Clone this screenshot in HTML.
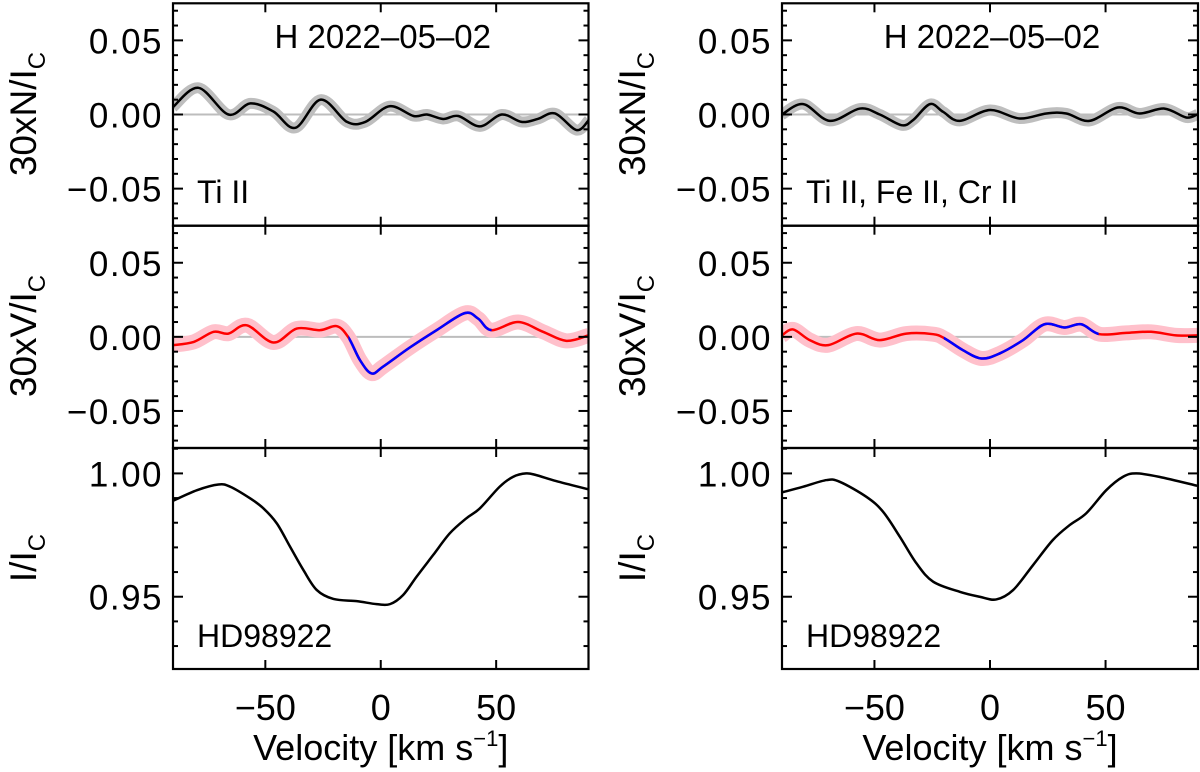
<!DOCTYPE html>
<html><head><meta charset="utf-8">
<style>
html,body{margin:0;padding:0;background:#fff;}
svg{display:block;font-family:"Liberation Sans",Arial,sans-serif;}
</style></head>
<body>
<svg id="chart" width="1200" height="772" viewBox="0 0 1200 772" xmlns="http://www.w3.org/2000/svg"></svg>
<script>
// ---- data ----
const lvN = [-90,-79,-66,-56.5,-46.5,-37,-26,-14.6,-6.7,3.8,14.2,20,27,33.6,43,52.4,61,68,75.5,84.8,90];
const lN  = [0.005,0.018,0,0.0075,0.002,-0.009,0.010,-0.005,-0.005,0.0056,-0.001,0,-0.003,-0.001,-0.008,0,-0.005,-0.003,0.0007,-0.0105,-0.004];
const lvV = [-90,-81,-72.4,-66,-58,-46.5,-36.4,-26.3,-19,-14,-9,-4,1.1,12.6,24.2,36.4,42.2,48,59.5,70.3,80.4,90];
const lV  = [-0.0056,-0.0034,0.0034,0.0022,0.0078,-0.0038,0.0056,0.0045,0.0072,-0.0004,-0.0157,-0.0247,-0.020,-0.0072,0.0045,0.016,0.0123,0.0045,0.010,0.0034,-0.0027,0.001];
const lBlue = [-14,48];
const lvI = [-90,-79.6,-70.3,-65.2,-56.6,-50.8,-45,-39.3,-33.5,-27.7,-20.5,-10.4,-1.8,4,9.7,15.5,22.7,29.9,37.1,42.9,51.5,57.3,63,67.4,76,89.7];
const lI  = [0.9889,0.9932,0.9955,0.9946,0.9899,0.9858,0.9797,0.9703,0.9608,0.9527,0.9491,0.9482,0.947,0.947,0.9507,0.9581,0.9669,0.9757,0.9818,0.9858,0.9946,0.9986,1.0,0.9993,0.9969,0.9936];

const rvN = [-90,-80.8,-69.3,-56.3,-47.7,-38.3,-33.3,-26,-20.3,-13.1,0,12.8,24.4,33,43,55.3,64.7,75.5,84.9,89.6];
const rN  = [0,0.007,-0.0043,0.004,0,-0.0072,-0.0038,0.007,0.0018,-0.0043,0.003,-0.0027,0.0007,0.0007,-0.0043,0.0047,0.0007,0.004,-0.002,0];
const rvV = [-90,-85.2,-78,-70,-57.8,-47.7,-36.2,-24.6,-19.6,-11.7,-3.7,4.2,14.3,23.6,32.3,39.5,47.4,58.9,69.7,80.5,89.6];
const rV  = [0.001,0.005,-0.0022,-0.0056,0.0022,-0.0022,0.0022,0.0018,-0.0011,-0.009,-0.0146,-0.0112,-0.0022,0.0085,0.0063,0.0085,0.0018,0.0027,0.0034,0.001,0.001];
const rBlue = [-20,47];
const rvI = [-90,-80.8,-70.7,-65,-53.5,-46.3,-39,-31.8,-24.6,-13.1,-4.5,2.7,10,18.6,27.2,34.4,41.6,50.3,57.5,63.3,73.3,89.6];
const rI  = [0.9923,0.9946,0.9973,0.9966,0.9905,0.9845,0.9743,0.9635,0.9561,0.952,0.95,0.9489,0.9527,0.9628,0.973,0.979,0.9838,0.9932,0.9986,1.0,0.9986,0.995];

const xTicks = [-50,0,50];
const xTickLabels = ["\u221250","0","50"];
const pTicks = [0.05,0,-0.05];
const pTickLabels = ["0.05","0.00","\u22120.05"];
const iTicks = [1.00,0.95];
const iTickLabels = ["1.00","0.95"];

const NS="http://www.w3.org/2000/svg";
const svg=document.getElementById('chart');
function mk(tag,attrs,parent){const e=document.createElementNS(NS,tag);for(const k in attrs)e.setAttribute(k,attrs[k]);(parent||svg).appendChild(e);return e;}

const rows=[{t:3.3,b:225.7,min:-0.075,max:0.075},{t:225.7,b:448,min:-0.075,max:0.075},{t:448,b:669,min:0.9207,max:1.0103}];
function smooth(pts){
  let d='M'+pts[0][0].toFixed(2)+','+pts[0][1].toFixed(2);
  for(let i=0;i<pts.length-1;i++){
    const p0=pts[Math.max(0,i-1)],p1=pts[i],p2=pts[i+1],p3=pts[Math.min(pts.length-1,i+2)];
    const c1=[p1[0]+(p2[0]-p0[0])/6,p1[1]+(p2[1]-p0[1])/6];
    const c2=[p2[0]-(p3[0]-p1[0])/6,p2[1]-(p3[1]-p1[1])/6];
    d+='C'+c1[0].toFixed(2)+','+c1[1].toFixed(2)+' '+c2[0].toFixed(2)+','+c2[1].toFixed(2)+' '+p2[0].toFixed(2)+','+p2[1].toFixed(2);
  }
  return d;
}

function panel(id,L,R,vN,N,vV,V,blue,vI,I,label,yl){
  const xs=v=>L+(v+90)/180*(R-L);
  const ys=(r,val)=>{const o=rows[r];return o.b-(val-o.min)/(o.max-o.min)*(o.b-o.t);};
  const g=mk('g',{});
  
  
  const clipId=id+'clip';
  const cp=mk('clipPath',{id:clipId},g);
  mk('rect',{x:L,y:0,width:R-L,height:680},cp);
  for(const r of [0,1]){
    const z=mk('line',{x1:L,x2:R,y1:ys(r,0),y2:ys(r,0),stroke:'#bdbdbd','stroke-width':2},g);
    
    
  }
  const pN=vN.map((v,i)=>[xs(v),ys(0,N[i])]);
  const pV=vV.map((v,i)=>[xs(v),ys(1,V[i])]);
  const pI=vI.map((v,i)=>[xs(v),ys(2,I[i])]);
  const bandN=mk('path',{d:smooth(pN),fill:'none',stroke:'#bebebe','stroke-width':11,'stroke-linejoin':'round','clip-path':'url(#'+clipId+')'},g);
  
  
  const lnN=mk('path',{d:smooth(pN),fill:'none',stroke:'#000','stroke-width':2.5,'clip-path':'url(#'+clipId+')'},g);
  
  
  const bandV=mk('path',{d:smooth(pV),fill:'none',stroke:'#ffc0cb','stroke-width':15,'stroke-linejoin':'round','clip-path':'url(#'+clipId+')'},g);
  
  
  const lnV=mk('path',{d:smooth(pV),fill:'none',stroke:'#ff0000','stroke-width':2.5,'clip-path':'url(#'+clipId+')'},g);
  
  
  const bc=mk('clipPath',{id:clipId+'b'},g);
  mk('rect',{x:xs(blue[0]),y:0,width:xs(blue[1])-xs(blue[0]),height:680},bc);
  const lnB=mk('path',{d:smooth(pV),fill:'none',stroke:'#0000ff','stroke-width':2.5,'clip-path':'url(#'+clipId+'b)'},g);
  
  
  const lnI=mk('path',{d:smooth(pI),fill:'none',stroke:'#000','stroke-width':2.5,'clip-path':'url(#'+clipId+')'},g);
  
  
  for(let r=0;r<3;r++){
    const o=rows[r];
    const f=mk('rect',{x:L,y:o.t,width:R-L,height:o.b-o.t,fill:'none',stroke:'#000','stroke-width':2.2},g);
    
    
    for(const v of xTicks){
      const x=xs(v);
      mk('line',{x1:x,x2:x,y1:o.t,y2:o.t+9,stroke:'#000','stroke-width':2},g);
      mk('line',{x1:x,x2:x,y1:o.b,y2:o.b-9,stroke:'#000','stroke-width':2},g);
    }
    const lo=Math.ceil(o.min*100-1e-6),hi=Math.floor(o.max*100+1e-6);
    for(let k=lo;k<=hi;k++){
      const y=ys(r,k/100);
      const len=(k%5===0)?10:5;
      mk('line',{x1:L,x2:L+len,y1:y,y2:y,stroke:'#000','stroke-width':2},g);
      mk('line',{x1:R,x2:R-len,y1:y,y2:y,stroke:'#000','stroke-width':2},g);
    }
    const ticks=r<2?pTicks:iTicks, labs=r<2?pTickLabels:iTickLabels;
    ticks.forEach((v,i)=>{
      const t=mk('text',{x:L-10,y:ys(r,v)+13,'text-anchor':'end','font-size':35,'letter-spacing':1.5},g);
      t.textContent=labs[i];
      
      
    });
  }
  xTicks.forEach((v,i)=>{
    const t=mk('text',{x:xs(v),y:720,'text-anchor':'middle','font-size':36},g);
    t.textContent=xTickLabels[i];
    
    
  });
  const xt=mk('text',{x:xs(0),y:760,'text-anchor':'middle','font-size':36},g);
  xt.innerHTML='Velocity [km s<tspan dy="-14" font-size="22">\u22121</tspan><tspan dy="14">]</tspan>';
  
  
  const ylab=[['30xN/I','C',114],['30xV/I','C',336],['I/I','C',558]];
  ylab.forEach(a=>{
    const t=mk('text',{x:0,y:0,'text-anchor':'middle','font-size':37,transform:'translate('+(yl)+','+a[2]+') rotate(-90)'},g);
    t.innerHTML=a[0]+'<tspan dy="9" font-size="24">'+a[1]+'</tspan>';
    
    
  });
  const tt=mk('text',{x:xs(0)+2,y:48,'text-anchor':'middle','font-size':33},g);
  tt.textContent='H 2022\u201305\u201302';
  
  
  const ll=mk('text',{x:L+24,y:203,'font-size':32},g);
  ll.textContent=label;
  
  
  const sl=mk('text',{x:L+24,y:647,'font-size':32},g);
  sl.textContent='HD98922';
  
  
}
panel('left',173,588.5,lvN,lN,lvV,lV,lBlue,lvI,lI,'Ti II',36);
panel('right',782,1198,rvN,rN,rvV,rV,rBlue,rvI,rI,'Ti II, Fe II, Cr II',645);
</script>
</body></html>
